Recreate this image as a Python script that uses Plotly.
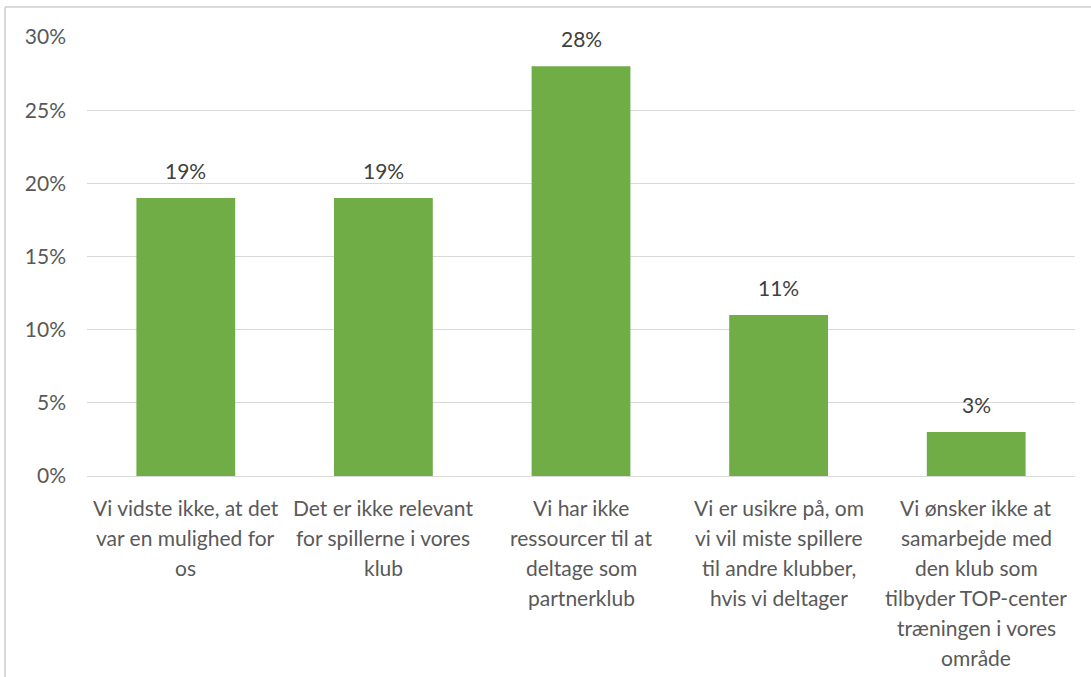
import plotly.graph_objects as go

categories = [
    "Vi vidste ikke, at det<br>var en mulighed for<br>os",
    "Det er ikke relevant<br>for spillerne i vores<br>klub",
    "Vi har ikke<br>ressourcer til at<br>deltage som<br>partnerklub",
    "Vi er usikre på, om<br>vi vil miste spillere<br>til andre klubber,<br>hvis vi deltager",
    "Vi ønsker ikke at<br>samarbejde med<br>den klub som<br>tilbyder TOP-center<br>træningen i vores<br>område",
]
values = [0.19, 0.19, 0.28, 0.11, 0.03]
tick_vals = [0, 0.05, 0.10, 0.15, 0.20, 0.25, 0.30]
tick_text = ["0%", "5%", "10%", "15%", "20%", "25%", "30%"]

W, H = 1091, 677
L, R, T, B = 87, 16, 37, 201
pw, ph = W - L - R, H - T - B
FONT = "Lato"
LINE_H = 30

fig = go.Figure()
fig.add_trace(go.Bar(
    x=categories, y=values,
    marker=dict(color="#70ad47", line=dict(width=0)),
    cliponaxis=False,
))

annotations = []
# value labels
for c, v in zip(categories, values):
    annotations.append(dict(
        x=c, y=v, xref="x", yref="y", text=f"{round(v*100)}%",
        showarrow=False, yanchor="bottom", yshift=13,
        font=dict(family=FONT, size=21, color="#404040"),
    ))
# category labels, one line per annotation for Excel-like line spacing
for c in categories:
    for i, line in enumerate(c.split("<br>")):
        annotations.append(dict(
            x=c, y=0, xref="x", yref="paper", text=line,
            showarrow=False, yanchor="middle", yshift=-31 - i * LINE_H,
            font=dict(family=FONT, size=21, color="#595959"),
        ))

fig.update_layout(
    width=W, height=H,
    margin=dict(l=L, r=R, t=T, b=B),
    paper_bgcolor="white", plot_bgcolor="white",
    bargap=0.5,
    showlegend=False,
    font=dict(family=FONT, size=21, color="#595959"),
    xaxis=dict(showline=True, linecolor="#d9d9d9", linewidth=1, ticks="",
               showticklabels=False),
    yaxis=dict(range=[0, 0.30], tickvals=tick_vals, ticktext=tick_text,
               showgrid=True, gridcolor="#d9d9d9", gridwidth=1,
               zeroline=False, showline=False, ticks="", ticklabelstandoff=20,
               tickfont=dict(size=21, color="#595959")),
    annotations=annotations,
    shapes=[
        dict(type="line", xref="paper", yref="paper",
             x0=(5 - L) / pw, x1=(5 - L) / pw, y0=1 + (T - 7) / ph, y1=-(B) / ph,
             line=dict(color="#d9d9d9", width=2)),
        dict(type="line", xref="paper", yref="paper",
             x0=(5 - L) / pw, x1=(W - L) / pw, y0=1 + (T - 7) / ph, y1=1 + (T - 7) / ph,
             line=dict(color="#d9d9d9", width=2)),
    ],
)

fig.write_html("out.html", config={"displayModeBar": False},
               post_script="document.body.style.margin='0';document.body.style.overflow='hidden';")
